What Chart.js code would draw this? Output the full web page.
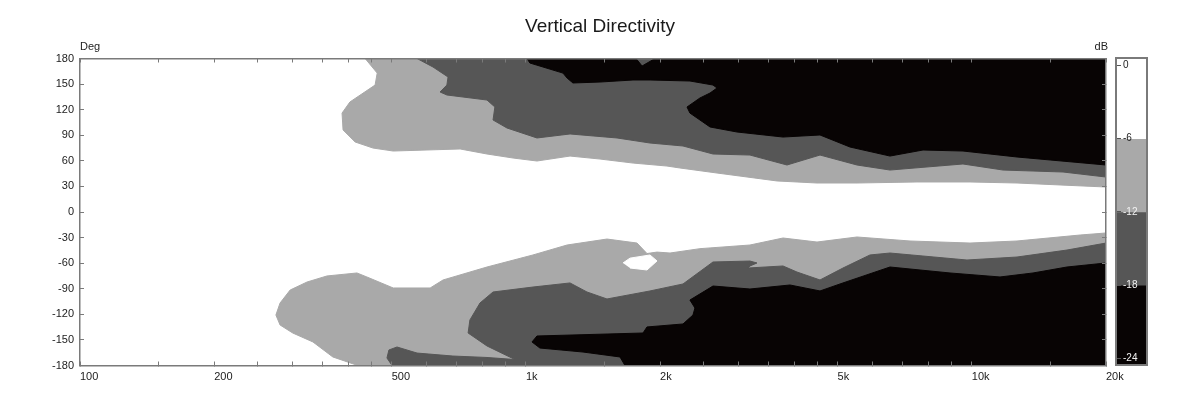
<!DOCTYPE html>
<html>
<head>
<meta charset="utf-8">
<title>Vertical Directivity</title>
<script src="https://cdn.jsdelivr.net/npm/chart.js@4.4.1/dist/chart.umd.min.js"></script>
<style>
  html, body { margin: 0; padding: 0; background: #fff; }
  body { width: 1200px; height: 400px; position: relative; overflow: hidden; font-family: "Liberation Sans", Arial, sans-serif; }
  #main { position: absolute; left: 0; top: 0; }
  .unit { position: absolute; top: 40.5px; font-size: 11px; line-height: 11px; color: #222; }
  #deg { left: 80px; }
  #db { right: 92px; }
  #barBox { position: absolute; left: 1115px; top: 57px; width: 29px; height: 305px; border: 2px solid #7a7a7a; }
  #scaleBar { display: block; }
</style>
</head>
<body>
<canvas id="main" width="1200" height="400"></canvas>
<span class="unit" id="deg">Deg</span>
<span class="unit" id="db">dB</span>
<div id="barBox"><canvas id="scaleBar" width="29" height="305"></canvas></div>
<script>
// axis ticks
const freqTicks = [100, 150, 200, 250, 300, 350, 400, 450, 500, 600, 700, 800, 900, 1000, 1500,
  2000, 2500, 3000, 3500, 4000, 4500, 5000, 6000, 7000, 8000, 9000, 10000, 15000, 20000];
const freqLabelValues = [100, 200, 500, 1000, 2000, 5000, 10000, 20000];
const freqLabelTexts = ['100', '200', '500', '1k', '2k', '5k', '10k', '20k'];
const degTicks = [-180, -150, -120, -90, -60, -30, 0, 30, 60, 90, 120, 150, 180];
const dbLevels = [0, -6, -12, -18, -24];

// contour outlines (Hz, deg)
const topMinus6Freq = [436, 464, 459, 403, 387, 389, 414, 454, 504, 712, 818, 936, 1059, 1256, 1466,
  1739, 2072, 2216, 2683, 3658, 4497, 5528, 7537, 9908, 12630, 15770, 20000, 20000];
const topMinus6Deg = [180, 162.9, 148.9, 129, 116, 96.2, 82.1, 75, 71.5, 73.9, 68, 63.3, 59.8, 65.6, 62.1,
  57.4, 53.9, 51.6, 45.7, 36.4, 34, 34, 35.2, 35.2, 34, 31.7, 29.3, 180];

const topMinus12Freq = [570, 619, 669, 665, 642, 665, 818, 852, 844, 907, 1059, 1256, 1601, 1898, 2251,
  2628, 3181, 3851, 4567, 5528, 6555, 9556, 11750, 16020, 20000, 20000];
const topMinus12Deg = [180, 170, 158.3, 148.9, 140.7, 137.2, 131.3, 123.1, 107.9, 98.5, 86.8, 91.5, 86.8, 80.9, 77.4,
  68, 66.8, 55.1, 66.8, 55.1, 49.2, 56.3, 49.2, 46.9, 41, 180];

const topMinus18Freq = [1006, 1021, 1211, 1237, 1275, 1466, 1739, 1898, 2333, 2628, 2683, 2588, 2457, 2298, 2333,
  2588, 2975, 3773, 4567, 5332, 6555, 7774, 9556, 12630, 20000, 20000, 1948, 1822, 1766];
const topMinus18Deg = [180, 174.7, 162.9, 157.1, 151.3, 152.4, 154.8, 154.8, 153.6, 148.9, 145.4, 139.5, 133.7, 123.1, 116,
  99.7, 93.8, 87.9, 90.3, 76.2, 65.6, 72.7, 71.5, 64.5, 55.1, 180, 180, 171.2, 180];

const bottomMinus6Freq = [420, 369, 333, 300, 281, 275, 281, 296, 323, 358, 418, 440, 504, 610, 652,
  818, 1037, 1237, 1520, 1775, 1869, 1968, 2105, 2457, 3181, 3773, 4497, 5528, 7269, 9908, 12630, 17490, 20000, 20000];
const bottomMinus6Deg = [-180, -170, -152.4, -141.9, -132.5, -120.8, -106.7, -91.5, -82.1, -75, -71.5, -76.2, -89.1, -89.1, -79.7,
  -64.5, -50.4, -38.7, -31.7, -36.4, -48.7, -47, -48.1, -43, -38.7, -30.5, -35.2, -29.3, -34, -36.4, -34, -27, -24.6, -180];

const islandFreq = [1651, 1712, 1898, 1968, 1869, 1712];
const islandDeg = [-59.8, -54.1, -50.4, -57.4, -68, -65.7];

const bottomMinus12Freq = [501, 488, 493, 514, 570, 686, 818, 945, 818, 742, 749, 789, 844, 1037, 1256,
  1371, 1520, 1898, 2251, 2628, 3181, 3298, 3181, 3148, 3773, 4055, 4567, 5142, 5911, 6555,
  9754, 12630, 16350, 20000, 20000];
const bottomMinus12Deg = [-180, -171.2, -161.8, -158.3, -165.4, -168.9, -170.6, -173, -157.1, -141.9, -126.6, -106.7, -93.8, -88, -83.2,
  -93.8, -102, -92.6, -84.4, -58.6, -57.5, -59.8, -63.3, -65.7, -63.3, -70.4, -79.7, -65.7, -50.4, -48.1,
  -56.3, -52.8, -44.6, -36.4, -180];

const bottomMinus18Freq = [1668, 1626, 1343, 1075, 1032, 1059, 1831, 1869, 2251, 2370, 2394, 2333, 2628, 3181, 3911,
  4567, 5142, 6555, 8936, 11570, 13720, 16350, 20000, 20000];
const bottomMinus18Deg = [-180, -170, -164.2, -159.5, -152.4, -145.4, -141.9, -134.8, -131.3, -120.8, -112.6, -103.2, -86.8, -90.3, -85.6,
  -92.6, -83.2, -64.5, -71.5, -76.2, -71.5, -64.5, -59.8, -180];

const WHITE = '#ffffff', LIGHT = '#a9a9a9', DARK = '#565656', BLACK = '#080404';
const FRAME = '#7a7a7a', TEXT = '#222';
const FONT = '"Liberation Sans", Arial, sans-serif';
const DB_MAX = 0.53, DB_MIN = -24.45;

function toPoints(freqs, degs) {
  return freqs.map((f, i) => ({ x: f, y: degs[i] }));
}

// first entry is painted last (on top)
const shapes = [
  [topMinus18Freq, topMinus18Deg, BLACK],
  [bottomMinus18Freq, bottomMinus18Deg, BLACK],
  [topMinus12Freq, topMinus12Deg, DARK],
  [bottomMinus12Freq, bottomMinus12Deg, DARK],
  [islandFreq, islandDeg, WHITE],
  [topMinus6Freq, topMinus6Deg, LIGHT],
  [bottomMinus6Freq, bottomMinus6Deg, LIGHT]
];

const setFreqTicks = (scale) => { scale.ticks = freqTicks.map(v => ({ value: v })); };
const setDegTicks = (scale) => { scale.ticks = degTicks.map(v => ({ value: v })); };
// negative length -> tick marks point into the plot; z 1 keeps them above the fills
const tickGrid = { drawOnChartArea: false, tickLength: -4, color: FRAME, z: 1 };
const frame = { color: FRAME, width: 1.5, z: 1 };

new Chart(document.getElementById('main'), {
  type: 'line',
  data: {
    datasets: shapes.map(s => ({
      data: toPoints(s[0], s[1]),
      backgroundColor: s[2],
      borderColor: s[2],
      borderWidth: 1,
      pointRadius: 0,
      fill: 'shape',
      tension: 0
    }))
  },
  options: {
    responsive: false,
    devicePixelRatio: 1,
    animation: false,
    events: [],
    layout: { padding: 0 },
    plugins: {
      legend: { display: false },
      tooltip: { enabled: false },
      title: {
        display: true,
        text: 'Vertical Directivity',
        color: '#1a1a1a',
        font: { family: FONT, size: 19, weight: 'normal' },
        padding: { top: 15, bottom: 16.7 }
      }
    },
    scales: {
      x: {
        type: 'logarithmic',
        position: 'bottom',
        min: 100,
        max: 20000,
        afterBuildTicks: setFreqTicks,
        afterFit: (s) => { s.height = 34.5; },
        ticks: {
          autoSkip: false,
          maxRotation: 0,
          align: 'start',
          padding: 9,
          color: TEXT,
          font: { family: FONT, size: 11 },
          callback: (v) => {
            const i = freqLabelValues.indexOf(v);
            return i >= 0 ? freqLabelTexts[i] : '';
          }
        },
        grid: tickGrid,
        border: frame
      },
      xTop: {
        type: 'logarithmic',
        position: 'top',
        min: 100,
        max: 20000,
        afterBuildTicks: setFreqTicks,
        afterFit: (s) => { s.height = 4; },
        ticks: { display: false },
        grid: tickGrid,
        border: frame
      },
      y: {
        position: 'left',
        min: -180,
        max: 180,
        afterBuildTicks: setDegTicks,
        afterFit: (s) => { s.width = 80; },
        ticks: { padding: 10, color: TEXT, font: { family: FONT, size: 11 } },
        grid: tickGrid,
        border: frame
      },
      yRight: {
        position: 'right',
        min: -180,
        max: 180,
        afterBuildTicks: setDegTicks,
        afterFit: (s) => { s.width = 94; },
        ticks: { display: false },
        grid: tickGrid,
        border: frame
      }
    }
  }
});

// colour scale
const bandColors = [WHITE, LIGHT, DARK, BLACK];
const bands = bandColors.map((c, i) => [
  i === 0 ? DB_MAX : dbLevels[i],
  i === bandColors.length - 1 ? DB_MIN : dbLevels[i + 1]
]);

new Chart(document.getElementById('scaleBar'), {
  type: 'bar',
  data: {
    labels: ['dB'],
    datasets: bands.map((b, i) => ({
      data: [b],
      backgroundColor: bandColors[i],
      borderWidth: 0,
      barPercentage: 1,
      categoryPercentage: 1,
      grouped: false
    }))
  },
  options: {
    responsive: false,
    devicePixelRatio: 1,
    animation: false,
    events: [],
    layout: { padding: 0 },
    plugins: { legend: { display: false }, tooltip: { enabled: false } },
    scales: {
      x: { display: false },
      y: {
        min: DB_MIN,
        max: DB_MAX,
        afterBuildTicks: (s) => { s.ticks = dbLevels.map(v => ({ value: v })); },
        afterFit: (s) => { s.width = 0; s.paddingTop = 0; s.paddingBottom = 0; },
        ticks: {
          z: 1,
          mirror: true,
          padding: 6,
          font: { family: FONT, size: 10 },
          color: (ctx) => (ctx.tick && ctx.tick.value <= -12 ? '#f2f2f2' : TEXT)
        },
        grid: { display: true, drawOnChartArea: false, drawTicks: true, tickLength: -4, color: '#555', z: 1 },
        border: { display: false }
      }
    }
  }
});
</script>
</body>
</html>
